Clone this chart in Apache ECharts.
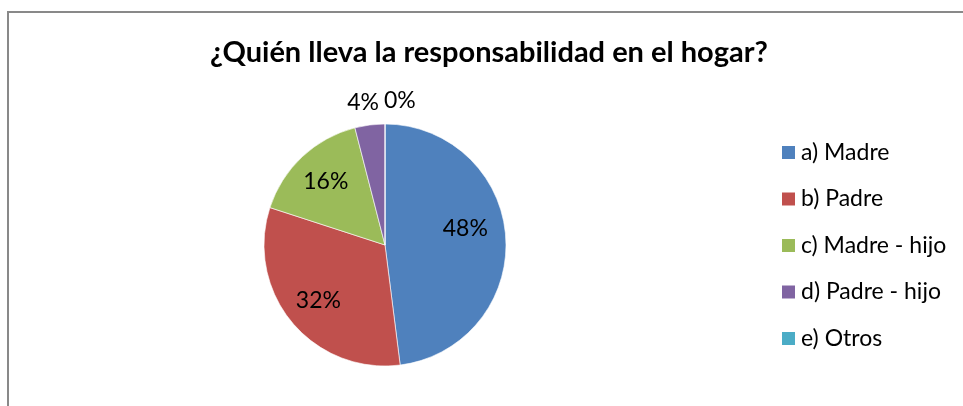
<!DOCTYPE html>
<html>
<head>
<meta charset="utf-8">
<script src="https://cdn.jsdelivr.net/npm/echarts@6/dist/echarts.min.js"></script>
<style>
html,body{margin:0;padding:0;background:#fff;}
#c{width:963px;height:406px;}
</style>
</head>
<body>
<div id="c"></div>
<script>
const titleText = '¿Quién lleva la responsabilidad en el hogar?';
const categories = ['a) Madre', 'b) Padre', 'c) Madre - hijo', 'd) Padre - hijo', 'e) Otros'];
const values = [48, 32, 16, 4, 0];
const colors = ['#4F81BD', '#C0504D', '#9BBB59', '#8064A2', '#4BACC6'];

const FONT = 'Lato, "Open Sans", sans-serif';

const pieData = categories.map((name, i) => ({ name: name, value: values[i], itemStyle: { color: colors[i] } }));
const labelData = categories.map((name, i) => ({
  name: name,
  value: values[i],
  label: { position: i >= 3 ? 'outside' : 'inside' }
}));

const chart = echarts.init(document.getElementById('c'), null, { renderer: 'canvas' });
chart.setOption({
  animation: false,
  backgroundColor: '#ffffff',
  color: colors,
  graphic: [{
    type: 'rect',
    silent: true,
    shape: { x: 8, y: 12, width: 1100, height: 600 },
    style: { fill: 'none', stroke: '#898989', lineWidth: 2 }
  }],
  title: {
    text: titleText,
    left: 205,
    top: 33,
    textStyle: { fontFamily: FONT, fontWeight: 'bold', fontSize: 29, color: '#000' }
  },
  legend: {
    orient: 'vertical',
    left: 775,
    top: 136,
    icon: 'rect',
    itemWidth: 15,
    itemHeight: 15,
    itemGap: 23.5,
    data: categories,
    textStyle: { fontFamily: FONT, fontSize: 23, color: '#000' }
  },
  series: [{
    type: 'pie',
    center: [385, 245],
    radius: [0, 121],
    startAngle: 90,
    clockwise: true,
    label: { show: false },
    labelLine: { show: false },
    itemStyle: { borderColor: '#ffffff', borderWidth: 0.6 },
    data: pieData
  }, {
    type: 'pie',
    silent: true,
    legendHoverLink: false,
    center: [385, 245],
    radius: [46, 121],
    startAngle: 90,
    clockwise: true,
    avoidLabelOverlap: false,
    itemStyle: { color: 'rgba(0,0,0,0)' },
    emphasis: { disabled: true },
    label: {
      show: true,
      formatter: '{d}%',
      fontFamily: FONT,
      fontSize: 23,
      color: '#000',
      distanceToLabelLine: 2
    },
    labelLine: { show: false, length: 23, length2: 0 },
    labelLayout: function (p) {
      if (p.dataIndex === 0) return { dx: -6, dy: -11 };
      if (p.dataIndex === 3) return { dx: 14 };
      if (p.dataIndex === 4) return { align: 'left', dx: -3 };
      return {};
    },
    data: labelData
  }]
});
</script>
</body>
</html>
